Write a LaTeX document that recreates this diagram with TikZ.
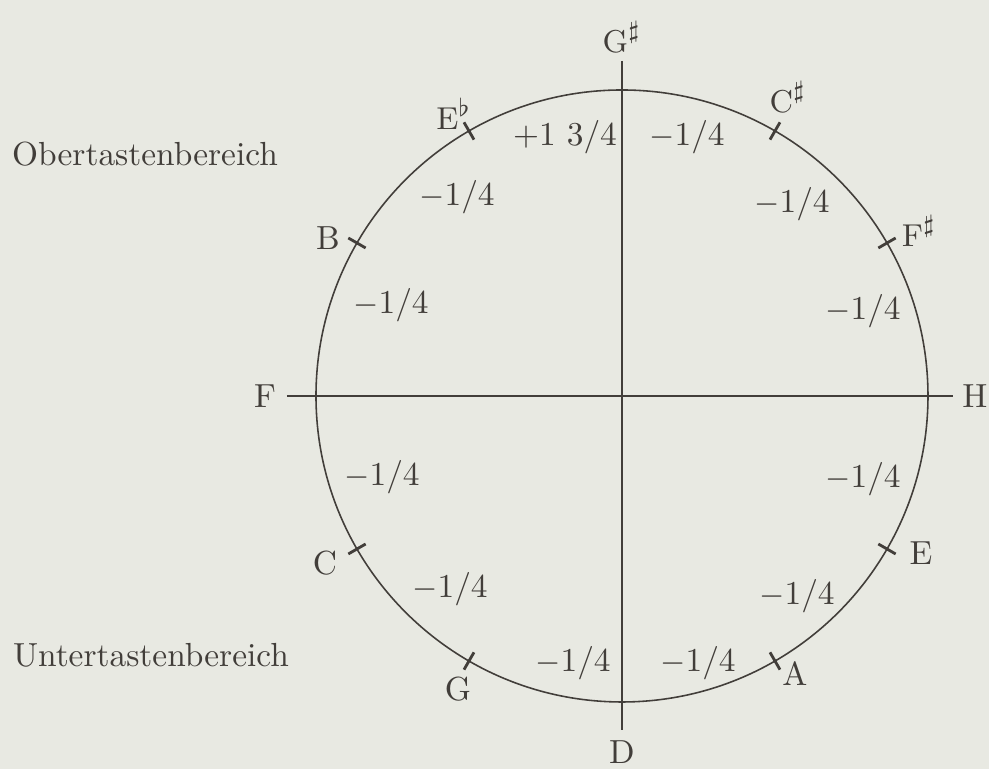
\documentclass[tikz,border=0pt]{standalone}
\usepackage{tikz}
\usetikzlibrary{positioning}
\definecolor{paper}{RGB}{232,233,226}
\definecolor{ink}{RGB}{66,62,58}
\tikzset{
  note/.style={text=ink, inner sep=1pt, font=\fontsize{9.5}{11}\selectfont},
  tone/.style={note},
  diff/.style={note},
  axis/.style={draw=ink, line width=0.6pt},
  ring/.style={draw=ink, line width=0.45pt},
  notch/.style={draw=ink, line width=0.8pt},
}

\begin{document}
\begin{tikzpicture}
    % page with the paper tone
    \fill[paper] (-6.22,-3.73) rectangle (3.67,3.96);
    \useasboundingbox (-6.22,-3.73) rectangle (3.67,3.96);

    % circle, axes and the twelve notches
    \draw[ring] (0,0) circle (3.06);
    \coordinate (north) at (0,3.35);
    \coordinate (south) at (0,-3.34);
    \coordinate (west) at (-3.35,0);
    \coordinate (east) at (3.31,0);
    \draw[axis] (north) -- (south);
    \draw[axis] (west) -- (east);
    \foreach \a in {0,30,...,330}
      \draw[notch] (\a:2.96) -- (\a:3.16);

    % tone names
    \node[tone] (gis) at (0,3.59)      {$\mathrm{G}^\sharp$};
    \node[tone] (cis) at (1.66,2.99)   {$\mathrm{C}^\sharp$};
    \node[tone] (fis) at (2.97,1.65)   {$\mathrm{F}^\sharp$};
    \node[tone] (h)   at (3.53,0)      {H};
    \node[tone] (e)   at (2.99,-1.57)  {E};
    \node[tone] (a)   at (1.73,-2.78)  {A};
    \node[tone] (d)   at (0,-3.56)     {D};
    \node[tone] (g)   at (-1.64,-2.93) {G};
    \node[tone] (c)   at (-2.97,-1.67) {C};
    \node[tone] (f)   at (-3.57,0)     {F};
    \node[tone] (b)   at (-2.94,1.58)  {B};
    \node[tone] (es)  at (-1.68,2.82)  {$\mathrm{E}^\flat$};

    % deviations
    \node[diff] (d1)  at (0.65,2.59)   {$-$1/4};
    \node[diff] (d2)  at (1.70,1.92)   {$-$1/4};
    \node[diff] (d3)  at (2.41,0.85)   {$-$1/4};
    \node[diff] (d4)  at (2.41,-0.83)  {$-$1/4};
    \node[diff] (d5)  at (1.75,-2.00)  {$-$1/4};
    \node[diff] (d6)  at (0.76,-2.67)  {$-$1/4};
    \node[diff] (d7)  at (-0.49,-2.67) {$-$1/4};
    \node[diff] (d8)  at (-1.72,-1.93) {$-$1/4};
    \node[diff] (d9)  at (-2.40,-0.81) {$-$1/4};
    \node[diff] (d10) at (-2.31,0.91)  {$-$1/4};
    \node[diff] (d11) at (-1.65,1.99)  {$-$1/4};
    \node[diff] (d12) at (-0.57,2.59)  {+1 3/4};

    % key ranges
    \node[note] (ober)  at (-4.77,2.42)  {Obertastenbereich};
    \node[note] (unter) at (-4.71,-2.59) {Untertastenbereich};
\end{tikzpicture}
\end{document}
